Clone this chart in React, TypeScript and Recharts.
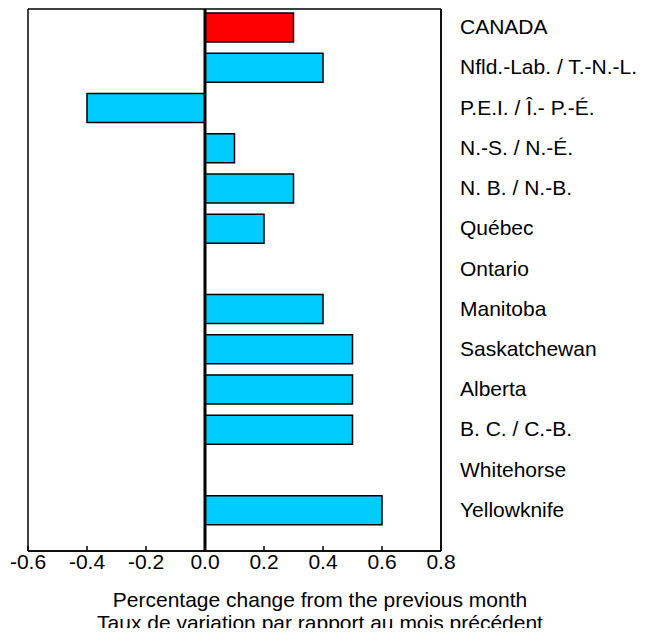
import React from "react";
import { BarChart, Bar, XAxis, YAxis, Cell, ReferenceLine, CartesianGrid } from "recharts";

const categories = [
  "CANADA",
  "Nfld.-Lab. / T.-N.-L.",
  "P.E.I. / Î.- P.-É.",
  "N.-S. / N.-É.",
  "N. B. / N.-B.",
  "Québec",
  "Ontario",
  "Manitoba",
  "Saskatchewan",
  "Alberta",
  "B. C. / C.-B.",
  "Whitehorse",
  "Yellowknife",
];
const values = [0.3, 0.4, -0.4, 0.1, 0.3, 0.2, 0, 0.4, 0.5, 0.5, 0.5, 0, 0.6];
const xTicks = [-0.6, -0.4, -0.2, 0.0, 0.2, 0.4, 0.6, 0.8];
const xTitle1 = "Percentage change from the previous month";
const xTitle2 = "Taux de variation par rapport au mois précédent";

const data = categories.map((name, i) => ({ name, value: values[i] }));
const FONT = "Arial, 'Liberation Sans', sans-serif";
const FS = 21;
const AXIS = { stroke: "#000", strokeWidth: 1.5 };

const XTick = (props: any) => {
  const { x, y, payload } = props;
  return (
    <g>
      <line x1={x} x2={x} y1={y} y2={y - 5} stroke="#000" strokeWidth={1.5} />
      <text x={x} y={y + 18} textAnchor="middle" fontSize={FS} fontFamily={FONT} fill="#000">
        {payload.value.toFixed(1)}
      </text>
    </g>
  );
};

const YTick = (props: any) => {
  const { x, y, payload } = props;
  return (
    <text x={x + 19} y={y + 7} textAnchor="start" fontSize={FS} fontFamily={FONT} fill="#000">
      {payload.value}
    </text>
  );
};

const XLabel = (props: any) => {
  const vb = props.viewBox || {};
  const y0 = vb.y;
  const cx = 312;
  return (
    <g>
      <text x={cx} y={y0 + 56} textAnchor="middle" fontSize={FS} fontFamily={FONT} fill="#000">
        {xTitle1}
      </text>
      <text x={cx} y={y0 + 79} textAnchor="middle" fontSize={FS} fontFamily={FONT} fill="#000">
        {xTitle2}
      </text>
    </g>
  );
};

const hGen = (p: any) => {
  const o = p.offset;
  return [o.top, o.top + o.height];
};
const vGen = (p: any) => {
  const o = p.offset;
  return [o.left, o.left + o.width];
};

export default function App() {
  return (
    <div style={{ width: 639, height: 630, marginBottom: -10 }}>
      <BarChart
        width={639}
        height={630}
        data={data}
        layout="vertical"
        margin={{ top: 1, right: 0, bottom: 0, left: 20 }}
        barSize={29}
      >
        <CartesianGrid
          stroke="#000"
          strokeWidth={1.5}
          strokeDasharray=""
          fill="none"
          horizontalCoordinatesGenerator={hGen}
          verticalCoordinatesGenerator={vGen}
        />
        <XAxis
          type="number"
          domain={[-0.6, 0.8]}
          ticks={xTicks}
          interval={0}
          axisLine={AXIS}
          tickLine={false}
          tickSize={0}
          tickMargin={0}
          tick={<XTick />}
          height={87}
          label={<XLabel />}
        />
        <YAxis
          type="category"
          dataKey="name"
          orientation="right"
          width={206}
          padding={{ top: -2, bottom: 21 }}
          axisLine={AXIS}
          tickLine={false}
          tickSize={0}
          tickMargin={0}
          interval={0}
          tick={<YTick />}
        />
        <Bar dataKey="value" isAnimationActive={false} stroke="#000" strokeWidth={1.5}>
          {data.map((d, i) => (
            <Cell key={i} fill={i === 0 ? "#FF0000" : "#00CCFF"} />
          ))}
        </Bar>
        <ReferenceLine x={0} stroke="#000" strokeWidth={3} />
      </BarChart>
    </div>
  );
}
